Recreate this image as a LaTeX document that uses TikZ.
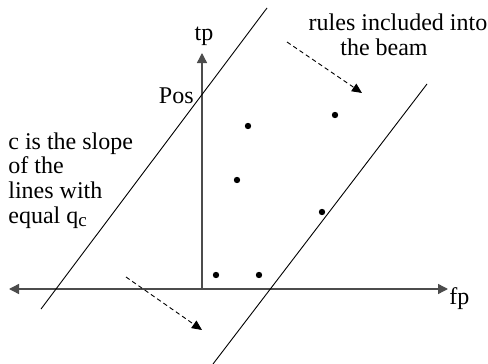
\documentclass[tikz,border=0pt]{standalone}
\usepackage{fontspec}
\setmainfont{Liberation Serif}
\usetikzlibrary{arrows.meta}
\begin{document}
\begin{tikzpicture}[x=0.5pt,y=-0.5pt,
  axis/.style={draw=black!70, line width=0.7pt, -{Triangle[length=5pt,width=5pt]}},
  beamline/.style={draw=black, line width=0.45pt},
  dasharrow/.style={draw=black, line width=0.45pt, dash pattern=on 2.2pt off 1.6pt, -{Triangle[length=5pt,width=4.5pt]}},
  lbl/.style={inner sep=0pt, font=\fontsize{12}{12}\selectfont},
  pt/.style={circle, fill=black, inner sep=0pt, minimum size=3.2pt}]
\useasboundingbox (0,0) rectangle (488,364);
% axes
\coordinate (O) at (202,289);
\coordinate (xr) at (448,289);
\coordinate (xl) at (9,289);
\coordinate (yt) at (202,53);
\draw[axis] (O) -- (xr);
\draw[axis] (O) -- (xl);
\draw[axis] (O) -- (yt);
% beam lines
\coordinate (L1) at (41,309);
\coordinate (L2) at (267,8);
\coordinate (R1) at (213,364);
\coordinate (R2) at (427,84);
\draw[beamline] (L1) -- (L2);
\draw[beamline] (R1) -- (R2);
% dashed arrows
\coordinate (A1) at (287,42);
\coordinate (A2) at (362,93);
\coordinate (B1) at (126,277);
\coordinate (B2) at (202,330);
\draw[dasharrow] (A1) -- (A2);
\draw[dasharrow] (B1) -- (B2);
% points
\node[pt] (p1) at (248,126) {};
\node[pt] (p2) at (335,115) {};
\node[pt] (p3) at (237,180) {};
\node[pt] (p4) at (322,212) {};
\node[pt] (p5) at (216,275) {};
\node[pt] (p6) at (259,275) {};
% labels
\node[lbl, anchor=base] (tp) at (204,40) {tp};
\node[lbl, anchor=base east] (pos) at (194,103) {Pos};
\node[lbl, anchor=base west] (fp) at (449,304) {fp};
\node[lbl, anchor=base west] (c1) at (8,149) {c is the slope};
\node[lbl, anchor=base west] (c2) at (8,173) {of the};
\node[lbl, anchor=base west] (c3) at (8,198) {lines with};
\node[lbl, anchor=base west] (c4) at (8,223) {equal q\raisebox{-0.3ex}{\fontsize{9.5}{9.5}\selectfont c}};
\node[lbl, anchor=base] (r1) at (398,31) {rules included into};
\node[lbl, anchor=base] (r2) at (384,55) {the beam};
\end{tikzpicture}
\end{document}
